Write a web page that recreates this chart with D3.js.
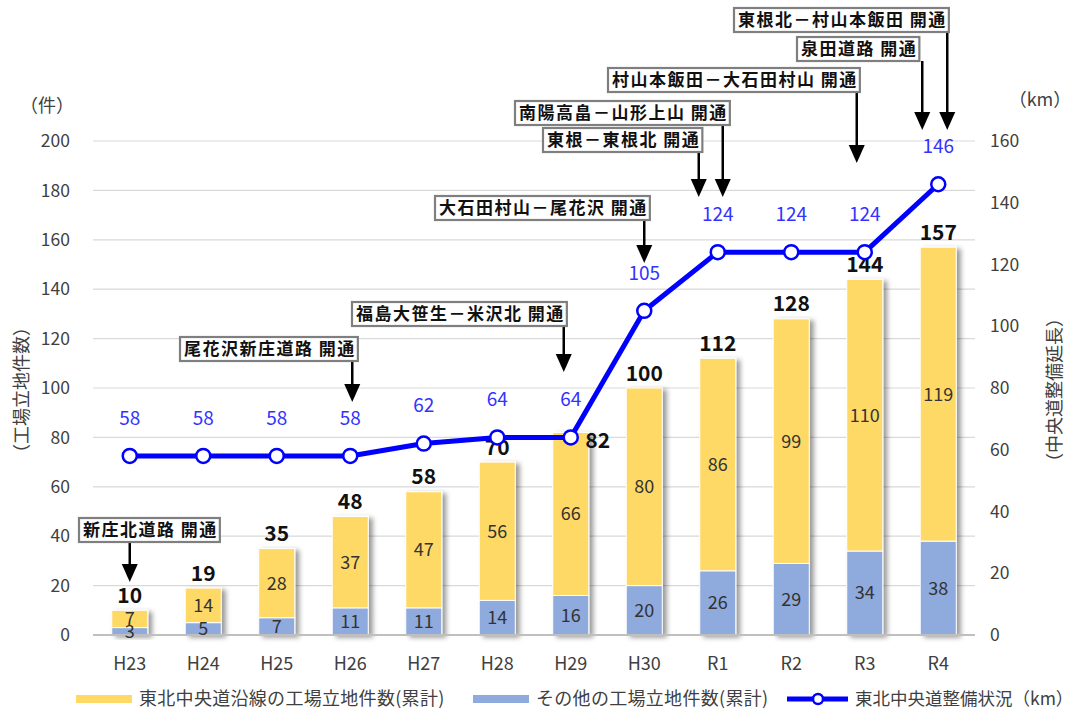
<!DOCTYPE html>
<html><head><meta charset="utf-8">
<script src="https://cdn.jsdelivr.net/npm/d3@7"></script>
<style>
body{margin:0;background:#fff;}
text{font-family:"Noto Sans CJK JP","Noto Sans",sans-serif;}
</style></head>
<body><svg id="c" width="1073" height="713"></svg>
<script>
const categories = ["H23","H24","H25","H26","H27","H28","H29","H30","R1","R2","R3","R4"];
const alongValues = [7,14,28,37,47,56,66,80,86,99,110,119];
const otherValues = [3,5,7,11,11,14,16,20,26,29,34,38];
const totalValues = [10,19,35,48,58,70,82,100,112,128,144,157];
const roadKm = [58,58,58,58,62,64,64,105,124,124,124,146];
const leftTicks = [0,20,40,60,80,100,120,140,160,180,200];
const rightTicks = [0,20,40,60,80,100,120,140,160];
const seriesNames = ["東北中央道沿線の工場立地件数(累計)","その他の工場立地件数(累計)","東北中央道整備状況（km）"];
const annotationTexts = ["新庄北道路 開通","尾花沢新庄道路 開通","福島大笹生－米沢北 開通","大石田村山－尾花沢 開通","東根－東根北 開通","南陽高畠－山形上山 開通","村山本飯田－大石田村山 開通","泉田道路 開通","東根北－村山本飯田 開通"];
const annotationCats = ["H23","H26","H29","H30","R1","R1","R3","R4","R4"];
// layout for annotations (arrow x offset from category centre, box left, box top, arrow tip y)
const annDx = [0,2,-7,0,-19,5,-8,-16,9];
const annBoxX = [79,180,352,435,543,515,608,797,734];
const annBoxY = [518,337,302,196,128,101,68,37,8];
const annTipY = [582,402,372,263,197,197,163,130,130];
// layout nudges for total labels (x offset, y offset from default)
const totalDx = [0,0,0,0,0,0,27,0,0,0,0,0];
const totalDy = [0,0,0,0,0,0,23,0,0,0,0,0];

const svg = d3.select("#c");
const L = 93, R = 975, T = 141, B = 635;
const x = d3.scaleBand().domain(categories).range([L,R]).paddingInner(0.51).paddingOuter(0.255);
const yL = d3.scaleLinear().domain([0,200]).range([B,T]);
const yR = d3.scaleLinear().domain([0,160]).range([B,T]);
const cx = c => x(c) + x.bandwidth()/2;

const defs = svg.append("defs");
const f = defs.append("filter").attr("id","sh").attr("x","-20%").attr("y","-10%").attr("width","160%").attr("height","130%");
f.append("feDropShadow").attr("dx",4).attr("dy",2).attr("stdDeviation",2.5).attr("flood-color","#000").attr("flood-opacity",0.4);

// gridlines
svg.append("g").selectAll("line").data(leftTicks.filter(d=>d>0)).join("line")
  .attr("x1",L).attr("x2",R).attr("y1",d=>yL(d)).attr("y2",d=>yL(d))
  .attr("stroke","#d9d9d9").attr("stroke-width",1.2);

// axes
const axL = svg.append("g").attr("transform",`translate(${L-23},0)`)
  .call(d3.axisLeft(yL).tickValues(leftTicks).tickSize(0).tickPadding(0));
axL.select(".domain").remove();
axL.selectAll("text").attr("font-size",17.5).attr("fill","#404040");
const axR = svg.append("g").attr("transform",`translate(${R+15},0)`)
  .call(d3.axisRight(yR).tickValues(rightTicks).tickSize(0).tickPadding(0));
axR.select(".domain").remove();
axR.selectAll("text").attr("font-size",17.5).attr("fill","#404040");
const axB = svg.append("g").attr("transform",`translate(0,${B+18})`)
  .call(d3.axisBottom(x).tickSize(0).tickPadding(4));
axB.select(".domain").remove();
axB.selectAll("text").attr("font-size",18).attr("fill","#404040");

// bars
const barG = svg.append("g");
categories.forEach((c,i)=>{
  const g = barG.append("g").attr("filter","url(#sh)");
  g.append("rect").attr("x",x(c)).attr("width",x.bandwidth())
    .attr("y",yL(otherValues[i])).attr("height",yL(0)-yL(otherValues[i]))
    .attr("fill","#8faadc").attr("stroke","#fff").attr("stroke-width",1);
  g.append("rect").attr("x",x(c)).attr("width",x.bandwidth())
    .attr("y",yL(otherValues[i]+alongValues[i])).attr("height",yL(otherValues[i])-yL(otherValues[i]+alongValues[i]))
    .attr("fill","#ffd966").attr("stroke","#fff").attr("stroke-width",1);
});
// baseline
svg.append("line").attr("x1",L).attr("x2",R).attr("y1",B).attr("y2",B).attr("stroke","#bfbfbf").attr("stroke-width",2);

// bar labels
const lab = svg.append("g");
categories.forEach((c,i)=>{
  lab.append("text").attr("x",cx(c)).attr("y",(yL(0)+yL(otherValues[i]))/2).attr("dy","0.36em")
    .attr("text-anchor","middle").attr("font-size",18).attr("fill","#333").text(otherValues[i]);
  lab.append("text").attr("x",cx(c)).attr("y",(yL(otherValues[i])+yL(totalValues[i]))/2).attr("dy","0.36em")
    .attr("text-anchor","middle").attr("font-size",18).attr("fill","#333").text(alongValues[i]);
  lab.append("text").attr("x",cx(c)+totalDx[i]).attr("y",yL(totalValues[i])-15+totalDy[i]).attr("dy","0.36em")
    .attr("text-anchor","middle").attr("font-size",21).attr("font-weight","bold").attr("fill","#111").text(totalValues[i]);
});

// line
const line = d3.line().x((d,i)=>cx(categories[i])).y(d=>yR(d));
svg.append("path").datum(roadKm).attr("d",line).attr("fill","none").attr("stroke","#0000ff").attr("stroke-width",5).attr("stroke-linejoin","round");
svg.append("g").selectAll("circle").data(roadKm).join("circle")
  .attr("cx",(d,i)=>cx(categories[i])).attr("cy",d=>yR(d)).attr("r",7)
  .attr("fill","#fff").attr("stroke","#0000ff").attr("stroke-width",2.5);
svg.append("g").selectAll("text").data(roadKm).join("text")
  .attr("x",(d,i)=>cx(categories[i])).attr("y",d=>yR(d)-38).attr("dy","0.36em")
  .attr("text-anchor","middle").attr("font-size",19).attr("fill","#3333ff").text(d=>d);

// annotations
const ann = svg.append("g");
annotationTexts.forEach((t,i)=>{
  const ax = cx(annotationCats[i]) + annDx[i];
  const by = annBoxY[i], bh = 24;
  ann.append("line").attr("x1",ax).attr("x2",ax).attr("y1",by+bh).attr("y2",annTipY[i]-14)
    .attr("stroke","#000").attr("stroke-width",2.5);
  ann.append("path").attr("d",`M${ax-8},${annTipY[i]-18}L${ax+8},${annTipY[i]-18}L${ax},${annTipY[i]}Z`).attr("fill","#000");
  const g = ann.append("g");
  const rect = g.append("rect");
  const tx = g.append("text").attr("x",annBoxX[i]+4).attr("y",by+bh/2).attr("dy","0.36em")
    .attr("font-size",17).attr("letter-spacing","1.5px").attr("font-weight","bold").attr("fill","#111").text(t);
  const w = tx.node().getComputedTextLength();
  rect.attr("x",annBoxX[i]).attr("y",by).attr("width",w+6).attr("height",bh)
    .attr("fill","#fff").attr("stroke","#7f7f7f").attr("stroke-width",2.2);
});

// axis titles
svg.append("text").attr("x",47).attr("y",106).attr("dy","0.36em").attr("text-anchor","middle").attr("font-size",18).attr("fill","#404040").text("（件）");
svg.append("text").attr("x",1040).attr("y",100).attr("dy","0.36em").attr("text-anchor","middle").attr("font-size",18).attr("fill","#404040").text("（km）");
svg.append("text").attr("transform","translate(22,390) rotate(-90)").attr("dy","0.36em").attr("text-anchor","middle").attr("font-size",18).attr("fill","#404040").text("（工場立地件数）");
svg.append("text").attr("transform","translate(1055,390) rotate(-90)").attr("dy","0.36em").attr("text-anchor","middle").attr("font-size",18).attr("fill","#404040").text("（中央道整備延長）");

// legend
const lg = svg.append("g");
const ly = 699;
lg.append("rect").attr("x",76).attr("y",ly-4).attr("width",56).attr("height",8).attr("fill","#ffd966");
lg.append("text").attr("x",139).attr("y",ly).attr("dy","0.36em").attr("font-size",18).attr("letter-spacing","0.3px").attr("fill","#404040").text(seriesNames[0]);
lg.append("rect").attr("x",473).attr("y",ly-4).attr("width",56).attr("height",8).attr("fill","#8faadc");
lg.append("text").attr("x",536).attr("y",ly).attr("dy","0.36em").attr("font-size",18).attr("letter-spacing","0.3px").attr("fill","#404040").text(seriesNames[1]);
lg.append("line").attr("x1",787).attr("x2",848).attr("y1",ly).attr("y2",ly).attr("stroke","#0000ff").attr("stroke-width",5);
lg.append("circle").attr("cx",818).attr("cy",ly).attr("r",5).attr("fill","#fff").attr("stroke","#0000ff").attr("stroke-width",2.5);
lg.append("text").attr("x",855).attr("y",ly).attr("dy","0.36em").attr("font-size",17.5).attr("fill","#404040").text(seriesNames[2]);
</script></body></html>
